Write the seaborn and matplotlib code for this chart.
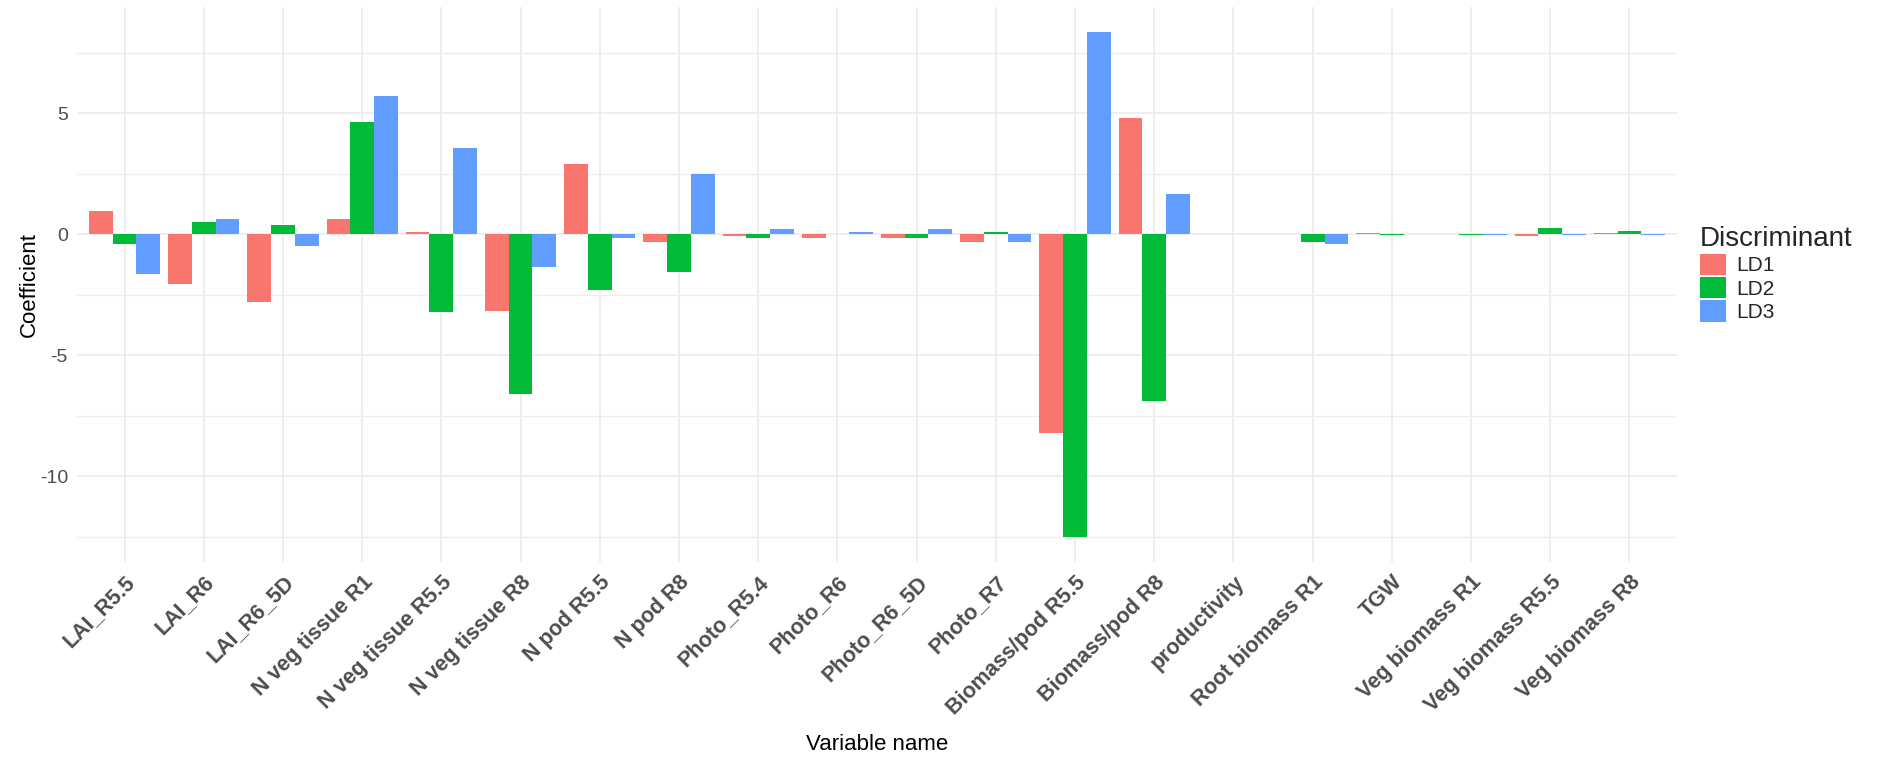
import numpy as np
import pandas as pd
import seaborn as sns
import matplotlib.pyplot as plt
from matplotlib.ticker import FixedLocator

variables = [
    "LAI_R5.5", "LAI_R6", "LAI_R6_5D", "N veg tissue R1", "N veg tissue R5.5",
    "N veg tissue R8", "N pod R5.5", "N pod R8", "Photo_R5.4", "Photo_R6",
    "Photo_R6_5D", "Photo_R7", "Biomass/pod R5.5", "Biomass/pod R8",
    "productivity", "Root biomass R1", "TGW", "Veg biomass R1",
    "Veg biomass R5.5", "Veg biomass R8",
]
ld1 = [0.95, -2.05, -2.8, 0.65, 0.1, -3.15, 2.9, -0.32, -0.07, -0.14,
       -0.14, -0.32, -8.2, 4.8, 0.0, 0.0, 0.07, 0.0, -0.08, 0.07]
ld2 = [-0.4, 0.5, 0.4, 4.65, -3.2, -6.6, -2.3, -1.54, -0.14, 0.0,
       -0.14, 0.11, -12.5, -6.9, 0.0, -0.32, -0.03, -0.03, 0.25, 0.15]
ld3 = [-1.65, 0.65, -0.5, 5.7, 3.55, -1.35, -0.15, 2.5, 0.2, 0.11,
       0.2, -0.32, 8.35, 1.65, 0.0, -0.39, 0.0, -0.03, -0.03, -0.03]
discriminants = ["LD1", "LD2", "LD3"]
palette = ["#F8766D", "#00BA38", "#619CFF"]

df = pd.DataFrame({
    "Variable": variables * 3,
    "Coefficient": ld1 + ld2 + ld3,
    "Discriminant": np.repeat(discriminants, len(variables)),
})

sns.set_style("white")
plt.rcParams["font.family"] = ["Liberation Sans", "DejaVu Sans"]
plt.rcParams["axes.unicode_minus"] = False

fig = plt.figure(figsize=(18.77, 7.65), dpi=100)
ax = fig.add_axes([77 / 1877, 1 - 562 / 765, 1600 / 1877, 555 / 765])

sns.barplot(data=df, x="Variable", y="Coefficient", hue="Discriminant",
            order=variables, hue_order=discriminants, palette=palette,
            width=0.9, saturation=1, edgecolor="none", ax=ax, zorder=3)

# ggplot-like limits and grid
vals = df["Coefficient"]
span = vals.max() - vals.min()
ax.set_ylim(vals.min() - 0.05 * span, vals.max() + 0.05 * span)
ax.set_xlim(-0.6, len(variables) - 0.4)
ax.set_yticks([-10, -5, 0, 5])
ax.yaxis.set_minor_locator(FixedLocator([-12.5, -7.5, -2.5, 2.5, 7.5]))
ax.grid(True, which="major", color="#EBEBEB", linewidth=1.2, zorder=0)
ax.grid(True, which="minor", axis="y", color="#EFEFEF", linewidth=1.0, zorder=0)
for s in ax.spines.values():
    s.set_visible(False)
ax.tick_params(axis="both", which="both", length=0)
ax.tick_params(axis="y", labelsize=14, labelcolor="#4D4D4D", pad=6.5)
ax.set_xticks(range(len(variables)))
ax.set_xticklabels(variables, rotation=45, ha="right", rotation_mode="anchor",
                   fontsize=15.5, fontweight="bold", color="#4D4D4D")
ax.tick_params(axis="x", pad=7)

ax.set_ylabel("Coefficient", fontsize=16, color="black")
ax.set_xlabel("Variable name", fontsize=16, color="black")
ax.yaxis.set_label_coords(-0.023, 0.5)
ax.xaxis.set_label_coords(0.5, -0.31)

handles, labels = ax.get_legend_handles_labels()
ax.legend_.remove()
fig.legend(handles, labels, title="Discriminant", loc="upper left",
           bbox_to_anchor=(1700 / 1877, 1 - 226 / 765), frameon=False,
           fontsize=15, title_fontsize=20, handlelength=1.25,
           handleheight=1.2, labelspacing=0.08, handletextpad=0.5,
           borderpad=0, borderaxespad=0, alignment="left")

fig.savefig("out.png", dpi=100)
